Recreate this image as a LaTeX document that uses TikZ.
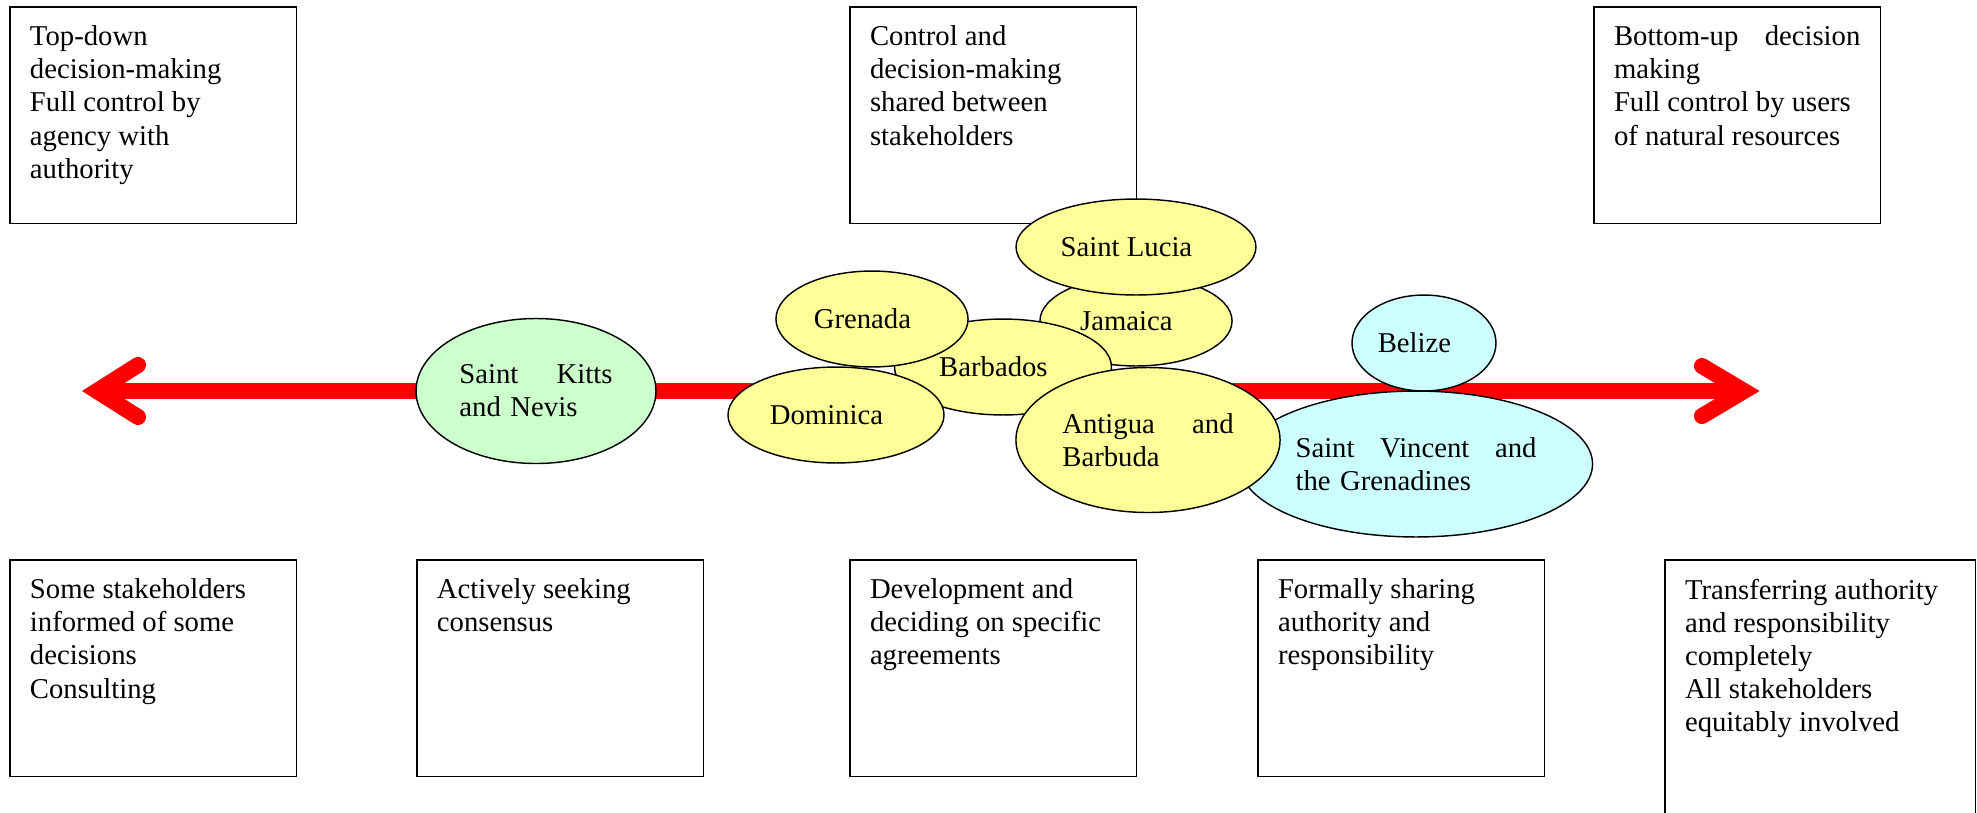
\documentclass[tikz,border=0pt]{standalone}
\usepackage{fontspec}
\setmainfont{Liberation Serif}
\usetikzlibrary{shapes.geometric}
\definecolor{landyellow}{HTML}{FFFF99}
\definecolor{landgreen}{HTML}{CCFFCC}
\definecolor{landcyan}{HTML}{CCFFFF}
\NewDocumentCommand{\boxtext}{O{74.5pt} O{103pt} m}{\parbox[t][#1][t]{#2}{\raggedright #3}}
\tikzset{
	infobox/.style={draw,line width=0.75pt,fill=white,anchor=north west,inner xsep=8.4pt,inner ysep=8pt,font=\fontsize{12pt}{13.8pt}\selectfont},
	country/.style={draw,ellipse,line width=0.6pt,inner sep=0pt,font=\fontsize{12pt}{13.8pt}\selectfont},
	oneline/.style={execute at end node={\kern8pt}},
	yellowland/.style={country,fill=landyellow},
	greenland/.style={country,fill=landgreen},
	cyanland/.style={country,fill=landcyan},
	redline/.style={draw=red,line width=6.7pt},
}
\begin{document}
\begin{tikzpicture}[x=0.418pt,y=-0.418pt]
	\clip (0,0) rectangle (1977,812);
	% upper boxes
	\node (topdown) at (9,6) [infobox] {\boxtext{Top-down\\decision-making\\Full control by\\agency with\\authority}};
	\node (shared) at (849,6) [infobox] {\boxtext{Control and\\decision-making\\shared between\\stakeholders}};
	\node (bottomup) at (1593,6) [infobox] {\boxtext{Bottom-up\hfill decision\\making\\Full control by users\\of natural resources}};
	% lower boxes
	\node (consult) at (9,559) [infobox] {\boxtext{Some stakeholders\\informed of some\\decisions\\Consulting}};
	\node (consensus) at (416,559) [infobox] {\boxtext{Actively seeking\\consensus}};
	\node (agree) at (849,559) [infobox] {\boxtext{Development and\\deciding on specific\\agreements}};
	\node (sharing) at (1257,559) [infobox] {\boxtext{Formally sharing\\authority and\\responsibility}};
	\node (transfer) at (1664,559) [infobox] {\boxtext[92pt][113pt]{Transferring authority\\and responsibility\\completely\\All stakeholders\\equitably involved}};
	% red double arrow
	\coordinate (leftend) at (97,391);
	\coordinate (rightend) at (1744,391);
	\draw[redline] (leftend) -- (rightend);
	\draw[redline,line cap=round,line join=miter] (leftend) ++(41,-26) -- (leftend) -- ++(41,26);
	\draw[redline,line cap=round,line join=miter] (rightend) ++(-42,-25) -- (rightend) -- ++(-42,25);
	% countries
	\node (jamaica) at (1136,321) [yellowland,oneline,minimum width=80.3pt,minimum height=37.6pt] {Jamaica};
	\node (lucia) at (1136,247) [yellowland,oneline,minimum width=100.3pt,minimum height=40.1pt] {Saint Lucia};
	\node (barbados) at (1003,367) [yellowland,oneline,minimum width=90.7pt,minimum height=40.1pt] {Barbados};
	\node (grenada) at (872,319) [yellowland,oneline,minimum width=80.3pt,minimum height=40.1pt] {Grenada};
	\node (dominica) at (836,415) [yellowland,oneline,minimum width=90.3pt,minimum height=40.1pt] {Dominica};
	\node (vincent) at (1416,464) [cyanland,minimum width=147.6pt,minimum height=61pt,text width=100.7pt,align=left] {Saint\hfill Vincent\hfill and\\the Grenadines};
	\node (antigua) at (1148,440) [yellowland,minimum width=110.4pt,minimum height=60.6pt,text width=71.6pt,align=left] {Antigua\hfill and\\Barbuda};
	\node (belize) at (1424,343) [cyanland,oneline,minimum width=60.2pt,minimum height=40.1pt] {Belize};
	\node (kitts) at (536,391) [greenland,minimum width=100.3pt,minimum height=60.6pt,text width=64pt,align=left] {Saint\hfill Kitts\\and Nevis};
\end{tikzpicture}
\end{document}
